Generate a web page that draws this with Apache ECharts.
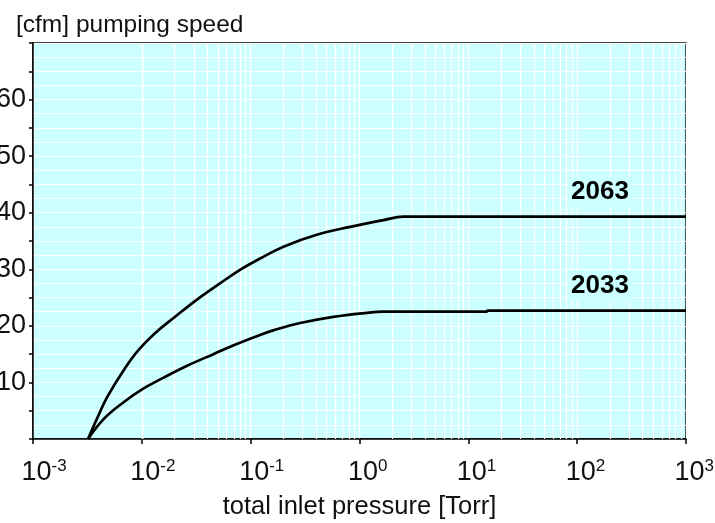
<!DOCTYPE html>
<html><head><meta charset="utf-8">
<script src="https://cdn.jsdelivr.net/npm/echarts@6/dist/echarts.min.js"></script>
<style>html,body{margin:0;padding:0;background:#fff}#c{width:715px;height:523px}</style>
</head><body><div id="c"></div>
<script>
// ---- data ----
const seriesNames = ['2063', '2033'];
const pressure2063 = [0.0032, 0.0040, 0.0048, 0.0070, 0.0093, 0.0132, 0.0202, 0.0319, 0.0522, 0.0798, 0.122, 0.200, 0.405, 0.82, 1.66, 2.53, 4.0, 1000];
const speed2063    = [0,      4.2,    7.4,    12.5,   15.7,   18.7,   21.6,   24.6,   27.5,   29.9,   31.9,  34.0,  36.1,  37.5, 38.7, 39.3, 39.3, 39.3];
const pressure2033 = [0.0032, 0.0045, 0.0068, 0.0103, 0.0157, 0.0258, 0.0454, 0.0745, 0.122, 0.161, 0.284, 0.574, 1.16, 1.66, 14.7, 15.0, 1000];
const speed2033    = [0,      3.6,    6.5,    8.9,    10.8,   12.9,   15.0,   16.8,   18.4,  19.2,  20.5,  21.6,  22.3, 22.5, 22.5, 22.7, 22.7];
const xTickExponents = [-3, -2, -1, 0, 1, 2, 3];
const yTickLabels = [10, 20, 30, 40, 50, 60];
const titleText = '[cfm] pumping speed';
const xAxisTitle = 'total inlet pressure [Torr]';

// minor log grid positions (2..9 x each decade)
const minorGrid = [];
for (let d = xTickExponents[0]; d < xTickExponents[xTickExponents.length - 1]; d++) {
  for (let k = 2; k <= 9; k++) minorGrid.push(k * Math.pow(10, d));
}

const FONT = 'Liberation Sans';
const BG = '#ccffff';

function pairs(xs, ys) { return xs.map((x, i) => [x, ys[i]]); }

const chart = echarts.init(document.getElementById('c'), null, {renderer: 'canvas'});
chart.setOption({
  animation: false,
  backgroundColor: '#ffffff',
  title: {
    text: titleText, left: 11, top: 8,
    textStyle: {fontFamily: FONT, fontSize: 24.5, fontWeight: 'normal', color: '#111'}
  },
  grid: {
    left: 33, right: 29, top: 43, bottom: 84,
    containLabel: false, outerBoundsMode: 'none',
    show: true, backgroundColor: BG, borderColor: '#000', borderWidth: 1.5
  },
  xAxis: {
    type: 'log', logBase: 10, min: 0.001, max: 1000, interval: 1, splitNumber: 6,
    name: xAxisTitle, nameLocation: 'middle', nameGap: 55,
    nameTextStyle: {fontFamily: FONT, fontSize: 25.5, color: '#111'},
    axisLine: {show: true, onZero: false, lineStyle: {color: '#000', width: 1.5}},
    axisTick: {show: true, length: 5, inside: false, lineStyle: {color: '#000', width: 1.5}},
    splitLine: {show: true, lineStyle: {color: '#ffffff', width: 1.2}},
    axisLabel: {
      margin: 19,
      formatter: function (v) {
        const e = Math.round(Math.log10(v));
        return '{h|' + e + '}{b|10}{s|' + e + '}';
      },
      rich: {
        b: {fontFamily: FONT, fontSize: 27, color: '#111', lineHeight: 30},
        s: {fontFamily: FONT, fontSize: 17, color: '#111', verticalAlign: 'top', lineHeight: 22},
        h: {fontFamily: FONT, fontSize: 17, color: 'rgba(0,0,0,0)', verticalAlign: 'top', lineHeight: 22, padding: [0, 7, 0, 0]}
      }
    }
  },
  yAxis: {
    type: 'value', min: 0, max: 70, interval: 5,
    axisLine: {show: true, onZero: false, lineStyle: {color: '#000', width: 1.5}},
    axisTick: {show: true, length: 4, lineStyle: {color: '#000', width: 1.5}},
    splitLine: {show: true, lineStyle: {color: '#ffffff', width: 1.2}},
    minorTick: {show: false, splitNumber: 2},
    minorSplitLine: {show: true, lineStyle: {color: '#ffffff', width: 1.2}},
    axisLabel: {
      margin: 7, fontFamily: FONT, fontSize: 27, color: '#111',
      formatter: function (v) { return yTickLabels.indexOf(v) >= 0 ? String(v) : ''; }
    }
  },
  series: [
    {
      type: 'line', data: [], z: 1, silent: true,
      markLine: {
        silent: true, symbol: ['none', 'none'], animation: false,
        label: {show: false},
        lineStyle: {color: '#ffffff', width: 1.2, type: 'solid'},
        emphasis: {disabled: true},
        data: minorGrid.map(v => ({xAxis: v}))
      }
    },
    {
      name: seriesNames[0], type: 'line', z: 5,
      data: pairs(pressure2063, speed2063),
      showSymbol: false, smooth: 0.4,
      lineStyle: {color: '#000', width: 2.7},
      markPoint: {
        symbol: 'rect', symbolSize: 1, itemStyle: {color: 'rgba(0,0,0,0)'},
        label: {show: true, position: 'inside', formatter: seriesNames[0],
          fontFamily: FONT, fontSize: 26, fontWeight: 'bold', color: '#000',
          backgroundColor: BG, padding: [2, 4]},
        data: [{coord: [162, 43.7]}]
      }
    },
    {
      name: seriesNames[1], type: 'line', z: 5,
      data: pairs(pressure2033, speed2033),
      showSymbol: false, smooth: 0.4,
      lineStyle: {color: '#000', width: 2.7},
      markPoint: {
        symbol: 'rect', symbolSize: 1, itemStyle: {color: 'rgba(0,0,0,0)'},
        label: {show: true, position: 'inside', formatter: seriesNames[1],
          fontFamily: FONT, fontSize: 26, fontWeight: 'bold', color: '#000',
          backgroundColor: BG, padding: [2, 4]},
        data: [{coord: [162, 27.1]}]
      }
    }
  ]
});
</script></body></html>
